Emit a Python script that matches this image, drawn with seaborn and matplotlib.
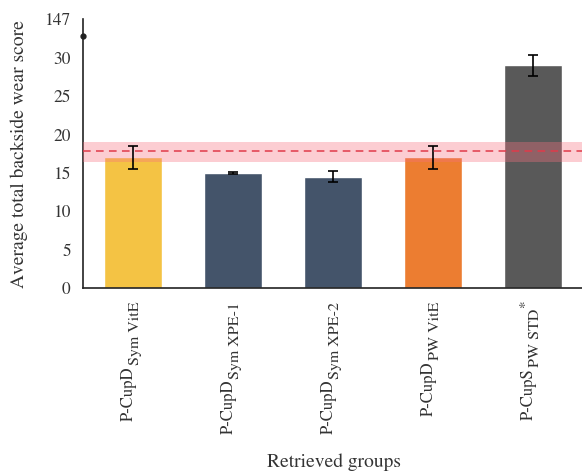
import matplotlib
matplotlib.use("Agg")
import matplotlib.pyplot as plt
import seaborn as sns
import numpy as np

# group names: base name, subscript and optional superscript mark
group_main = ["P-CupD", "P-CupD", "P-CupD", "P-CupD", "P-CupS"]
group_sub = ["Sym VitE", "Sym XPE-1", "Sym XPE-2", "PW VitE", "PW STD"]
group_sup = ["", "", "", "", "*"]

means = [17.0, 15.0, 14.5, 17.0, 29.0]
errors = [1.5, 0.1, 0.75, 1.5, 1.4]
colors = ["#F4C344", "#44546A", "#44546A", "#EC7D31", "#595959"]

ref_mean = 17.9
ref_low, ref_high = 16.4, 19.0

yticks = [0, 5, 10, 15, 20, 25, 30, 35]
yticklabels = ["0", "5", "10", "15", "20", "25", "30", "147"]

sns.set_theme(style="white")
plt.rcParams["font.family"] = ["STIXGeneral", "DejaVu Serif"]
plt.rcParams["mathtext.fontset"] = "stix"

fig = plt.figure(figsize=(5.82, 4.75), dpi=100)
ax = fig.add_axes([0.143, 0.394, 0.857, 0.565])

x = np.arange(len(group_main))
sns.barplot(x=x, y=means, hue=x, palette=colors, legend=False,
            width=0.58, errorbar=None, ax=ax, saturation=1, zorder=2)
ax.errorbar(x, means, yerr=errors, fmt="none", ecolor="black",
            elinewidth=1.2, capsize=3.5, capthick=1.2, zorder=4)

# reference band and its mean line
ax.axhspan(ref_low, ref_high, color="#F7707F", alpha=0.35, lw=0, zorder=3)
ax.axhline(ref_mean, color="#E03A4A", lw=1.1, ls=(0, (5, 3.5)), zorder=5)

ax.set_xlim(-0.5, 4.49)
ax.set_ylim(0, 35)
ax.set_yticks(yticks)
ax.set_yticklabels(yticklabels, fontsize=12.5, color="#333333")

# group boundaries as ticks; names are written under the bars below
ax.set_xticks([0.5, 1.5, 2.5, 3.5])
ax.set_xticklabels([])
ax.tick_params(axis="x", which="major", length=4, width=1, direction="out", color="#222222")
ax.tick_params(axis="y", length=4, width=1, direction="out", color="#222222", pad=5)

for side in ("top", "right"):
    ax.spines[side].set_visible(False)
for side in ("left", "bottom"):
    ax.spines[side].set_color("#222222")
    ax.spines[side].set_linewidth(1.2)

# axis break marker
ax.plot([-0.5], [32.9], marker="o", ms=3.5, color="#222222", clip_on=False, zorder=6)

# rotated group names with subscripts
renderer = fig.canvas.get_renderer()
xtrans = ax.get_xaxis_transform()
top_gap = 14
for i in x:
    offset = top_gap
    if group_sup[i]:
        ax.annotate(group_sup[i], xy=(i, 0), xycoords=xtrans,
                    xytext=(-8, -offset + 1), textcoords="offset pixels",
                    rotation=90, ha="center", va="top", fontsize=11,
                    color="#333333", annotation_clip=False)
        offset += 7
    sub = ax.annotate(group_sub[i], xy=(i, 0), xycoords=xtrans,
                      xytext=(2, -offset), textcoords="offset pixels",
                      rotation=90, ha="center", va="top", fontsize=11.5,
                      color="#333333", annotation_clip=False)
    h = sub.get_window_extent(renderer).height
    ax.annotate(group_main[i], xy=(i, 0), xycoords=xtrans,
                xytext=(-4, -offset - h - 1), textcoords="offset pixels",
                rotation=90, ha="center", va="top", fontsize=12,
                color="#333333", annotation_clip=False)

ax.set_ylabel("Average total backside wear score", fontsize=14, color="#333333")
ax.set_xlabel("Retrieved groups", fontsize=14, color="#333333")
ax.yaxis.set_label_coords(-0.110, 0.5)
ax.xaxis.set_label_coords(0.502, -0.617)

fig.savefig("out.png", dpi=100)
